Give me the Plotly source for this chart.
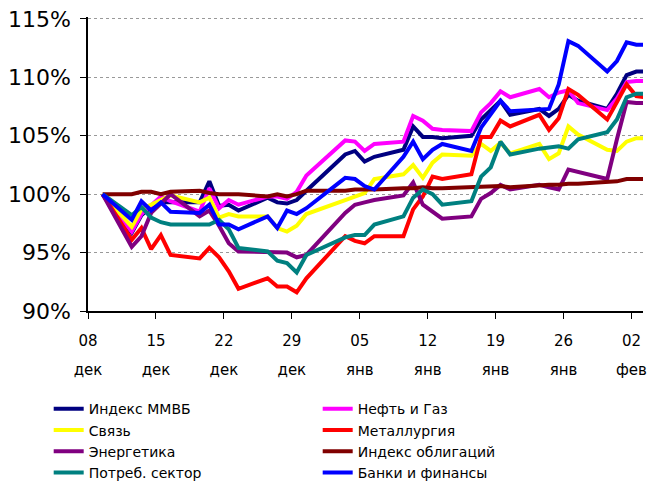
import pandas as pd
import plotly.graph_objects as go

dates = ["2011-12-09", "2011-12-12", "2011-12-13", "2011-12-14", "2011-12-15", "2011-12-16",
         "2011-12-19", "2011-12-20", "2011-12-21", "2011-12-22", "2011-12-23",
         "2011-12-26", "2011-12-27", "2011-12-28", "2011-12-29", "2011-12-30",
         "2012-01-03", "2012-01-04", "2012-01-05", "2012-01-06",
         "2012-01-09", "2012-01-10", "2012-01-11", "2012-01-12", "2012-01-13",
         "2012-01-16", "2012-01-17", "2012-01-18", "2012-01-19", "2012-01-20",
         "2012-01-23", "2012-01-24", "2012-01-25", "2012-01-26", "2012-01-27",
         "2012-01-30", "2012-01-31", "2012-02-01", "2012-02-02", "2012-02-03"]

micex = [100, 96.7, 98.2, 98.9, 99.3, 99.3, 99.3, 101.1, 99.0, 99.1, 98.6, 99.7, 99.3, 99.2, 99.5, 100.3,
         103.4, 103.7, 102.8, 103.2, 103.8, 105.8, 104.9, 104.9, 104.8, 105.0, 106.4, 107.2, 108.0, 106.8,
         107.3, 106.7, 107.3, 108.5, 108.0, 107.3, 108.6, 110.2, 110.5, 110.5]
oil_gas = [100, 96.8, 98.3, 99.0, 99.8, 99.4, 98.5, 100.5, 98.8, 99.5, 99.1, 99.8, 99.8, 99.6, 100.2, 101.6,
           104.6, 104.5, 103.7, 104.3, 104.5, 106.7, 106.3, 105.6, 105.5, 105.4, 107.0, 107.8, 108.8, 108.3,
           109.0, 108.3, 108.7, 108.9, 107.8, 107.2, 108.2, 109.6, 109.7, 109.7]
telecom = [100, 97.2, 98.7, 99.1, 99.5, 99.9, 99.3, 99.7, 98.0, 98.3, 98.1, 98.1, 97.1, 96.8, 97.3, 98.3,
           99.5, 99.8, 100.1, 101.3, 101.7, 102.5, 101.4, 102.7, 103.4, 103.3, 104.3, 103.7, 104.4, 103.5,
           104.3, 103.0, 103.5, 105.8, 105.1, 103.8, 103.7, 104.5, 104.8, 104.8]
metals = [100, 96.1, 97.1, 95.3, 96.5, 94.8, 94.5, 95.4, 94.6, 93.4, 91.9, 92.8, 92.1, 92.1, 91.6, 92.8,
          96.4, 96.0, 95.8, 96.4, 96.4, 98.7, 99.8, 101.5, 101.3, 101.7, 104.9, 104.9, 106.3, 105.8,
          106.8, 105.5, 106.5, 109.0, 108.5, 106.4, 107.9, 109.4, 108.4, 108.3]
energy = [100, 95.5, 96.4, 98.4, 99.2, 100.0, 98.1, 98.6, 97.3, 95.8, 95.1, 95.0, 95.0, 95.0, 94.6, 94.8,
          98.4, 99.1, 99.3, 99.5, 99.9, 101.0, 99.1, 98.5, 97.9, 98.1, 99.6, 100.1, 100.8, 100.4,
          100.8, 100.6, 100.4, 102.1, 101.9, 101.3, 104.7, 107.9, 107.8, 107.8]
bonds = [100, 100.0, 100.2, 100.2, 100.0, 100.2, 100.3, 100.1, 100.0, 100.0, 100.0, 99.8, 100.0, 99.8, 100.0, 100.3,
         100.3, 100.4, 100.4, 100.4, 100.5, 100.5, 100.6, 100.5, 100.5, 100.6, 100.6, 100.6, 100.7, 100.6,
         100.8, 100.8, 100.8, 100.9, 100.9, 101.1, 101.1, 101.3, 101.3, 101.3]
consumer = [100, 98.2, 98.9, 98.0, 97.6, 97.4, 97.4, 97.4, 97.8, 97.0, 95.4, 95.1, 94.3, 94.1, 93.3, 94.8,
            96.3, 96.5, 96.5, 97.4, 98.1, 99.7, 100.4, 100.0, 99.1, 99.4, 101.5, 102.3, 104.5, 103.4,
            103.9, 104.0, 104.1, 103.9, 104.7, 105.3, 106.4, 108.3, 108.6, 108.6]
banks = [100, 97.8, 99.4, 98.6, 99.3, 98.5, 98.4, 99.1, 97.4, 97.4, 97.0, 98.1, 97.1, 98.6, 98.3, 98.8,
         101.4, 101.3, 100.7, 100.4, 103.2, 104.5, 103.0, 103.8, 104.3, 103.7, 105.7, 106.8, 108.0, 107.1,
         107.3, 107.3, 109.4, 113.1, 112.7, 110.5, 111.4, 113.0, 112.8, 112.8]

series_names = ["Индекс ММВБ", "Нефть и Газ", "Связь", "Металлургия",
                "Энергетика", "Индекс облигаций", "Потреб. сектор", "Банки и финансы"]
series_values = [micex, oil_gas, telecom, metals, energy, bonds, consumer, banks]
series_colors = ["#000080", "#FF00FF", "#FFFF00", "#FF0000",
                 "#800080", "#800000", "#008080", "#0000FF"]

tick_days = ["2011-12-08", "2011-12-15", "2011-12-22", "2011-12-29", "2012-01-05",
             "2012-01-12", "2012-01-19", "2012-01-26", "2012-02-02"]
day_labels = ["08", "15", "22", "29", "05", "12", "19", "26", "02"]
month_labels = ["дек", "дек", "дек", "дек", "янв", "янв", "янв", "янв", "фев"]
y_ticks = [90, 95, 100, 105, 110, 115]
y_labels = ["90%", "95%", "100%", "105%", "110%", "115%"]

# date-axis categories are centred within their day, so ticks sit half a day earlier
tickvals = list(pd.to_datetime(tick_days) - pd.Timedelta(hours=12))

FONT = "DejaVu Sans"
x_range = ["2011-12-07 11:50", "2012-02-02 16:30"]

fig = go.Figure()
for name, vals, col in zip(series_names, series_values, series_colors):
    fig.add_trace(go.Scatter(x=pd.to_datetime(dates), y=vals, name=name, mode="lines",
                             line=dict(color=col, width=4)))

# helper trace for the month-label axis
fig.add_trace(go.Scatter(x=[], y=[], xaxis="x2", showlegend=False, hoverinfo="skip"))

# the page body adds an 8px offset, so the figure is 8px smaller than the window
fig.update_layout(
    width=648, height=476,
    margin=dict(l=80, r=13, t=9, b=173, autoexpand=False),
    paper_bgcolor="white", plot_bgcolor="white",
    font=dict(family=FONT, color="black"),
    showlegend=True,
    legend=dict(orientation="h", xref="container", yref="container",
                x=0.0628, y=0.1906, xanchor="left", yanchor="top",
                entrywidth=224, entrywidthmode="pixels",
                font=dict(family=FONT, size=14, color="black"),
                bgcolor="rgba(0,0,0,0)", tracegroupgap=0),
    xaxis=dict(type="date", range=x_range, tickmode="array", tickvals=tickvals, ticktext=day_labels,
               showline=True, linecolor="black", linewidth=1.5, ticks="outside", ticklen=6,
               tickcolor="black", tickwidth=1, showgrid=False, zeroline=False, automargin=False,
               tickfont=dict(family=FONT, size=15, color="black"), ticklabelstandoff=9),
    xaxis2=dict(type="date", range=x_range, overlaying="x", anchor="y", side="bottom",
                tickmode="array", tickvals=tickvals, ticktext=month_labels,
                showline=False, ticks="outside", ticklen=6, tickcolor="rgba(0,0,0,0)",
                showgrid=False, zeroline=False, automargin=False,
                tickfont=dict(family=FONT, size=15, color="black"), ticklabelstandoff=39),
    yaxis=dict(range=[90, 115.17], tickmode="array", tickvals=y_ticks, ticktext=y_labels,
               ticklabeloverflow="allow",
               showline=True, linecolor="black", linewidth=1.5, ticks="outside", ticklen=6,
               tickcolor="black", showgrid=True, gridcolor="#999999", gridwidth=1,
               griddash="3px,3px", zeroline=False, automargin=False,
               tickfont=dict(family=FONT, size=22, color="black"), ticklabelstandoff=5),
)

fig.write_html("out.html")
